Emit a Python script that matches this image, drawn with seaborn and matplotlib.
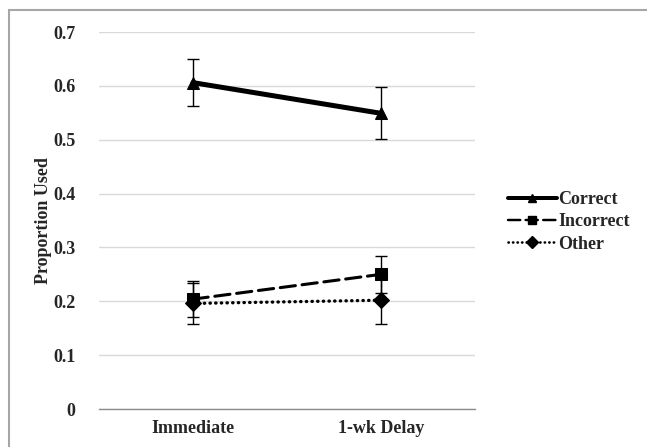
import pandas as pd
import seaborn as sns
import matplotlib.pyplot as plt
from matplotlib.patches import Rectangle
from matplotlib.lines import Line2D

# data
conditions = ["Immediate", "1-wk Delay"]
correct = [0.606, 0.549]
correct_err = [0.044, 0.048]
incorrect = [0.204, 0.250]
incorrect_err = [0.033, 0.035]
other = [0.196, 0.202]
other_err = [0.038, 0.045]

series_names = ["Correct", "Incorrect", "Other"]
df = pd.DataFrame({
    "condition": conditions * 3,
    "series": [s for s in series_names for _ in conditions],
    "value": correct + incorrect + other,
    "err": correct_err + incorrect_err + other_err,
})

sns.set_style("white")
plt.rcParams["font.family"] = ["Liberation Serif", "DejaVu Serif"]
plt.rcParams["font.weight"] = "bold"

fig = plt.figure(figsize=(6.47, 4.47), dpi=100)
ax = fig.add_axes([99 / 647, 1 - 409 / 447, (475 - 99) / 647, (409 - 32) / 447])

# outer chart border (right and bottom edges fall outside the image)
fig.patches.append(Rectangle((9 / 647, -0.05), 1.05, 1 - 10 / 447 + 0.05,
                             transform=fig.transFigure, fill=False,
                             edgecolor="#a6a6a6", linewidth=1.5, zorder=0))

styles = {"Correct": ("^", "", 3.6), "Incorrect": ("s", (5, 2.2), 2.2),
          "Other": ("D", (0.1, 1.6), 2.4)}

sns.lineplot(data=df, x="condition", y="value", hue="series", style="series",
             size="series", palette={s: "black" for s in series_names},
             sizes={s: styles[s][2] for s in series_names},
             markers={s: styles[s][0] for s in series_names},
             dashes={s: styles[s][1] for s in series_names},
             markersize=8, dash_capstyle="round", markeredgecolor="black",
             legend=False, ax=ax, zorder=3)

for s in series_names:
    sub = df[df["series"] == s]
    ax.errorbar([conditions.index(c) for c in sub["condition"]], sub["value"],
                yerr=sub["err"], fmt="none", ecolor="black", elinewidth=1.0,
                capsize=4, capthick=1.0, zorder=2)

ax.set_xlim(-0.5, 1.5)
ax.set_ylim(0, 0.7)
ax.set_yticks([0, 0.1, 0.2, 0.3, 0.4, 0.5, 0.6, 0.7])
ax.set_yticklabels(["0", "0.1", "0.2", "0.3", "0.4", "0.5", "0.6", "0.7"])
ax.set_xticks([0, 1])
ax.set_xticklabels(conditions)
ax.set_xticks([-0.5, 0.5, 1.5], minor=True)
ax.tick_params(axis="x", which="major", length=0, pad=8, labelsize=13)
ax.tick_params(axis="x", which="minor", length=4, color="#8c8c8c", width=1)
ax.tick_params(axis="y", length=0, pad=17, labelsize=13)
ax.yaxis.grid(True, color="#d9d9d9", linewidth=1)
ax.set_axisbelow(True)
for side in ["top", "right", "left"]:
    ax.spines[side].set_visible(False)
ax.spines["bottom"].set_color("#8c8c8c")
ax.spines["bottom"].set_linewidth(1)
ax.set_xlabel("")
ax.set_ylabel("Proportion Used", fontsize=13, fontweight="bold", labelpad=1)

# legend with smaller markers than the plot
handles = [Line2D([], [], color="black", marker=styles[s][0], markersize=6,
                  linewidth=styles[s][2] * 0.8, dash_capstyle="round",
                  linestyle=(0, styles[s][1]) if styles[s][1] else "-")
           for s in series_names]
ax.legend(handles, series_names, loc="center left",
          frameon=False, handlelength=2.7, handletextpad=0.1, labelspacing=0.28,
          borderaxespad=0, borderpad=0,
          prop={"family": "Liberation Serif", "weight": "bold", "size": 13})
leg = ax.get_legend()
leg.set_bbox_to_anchor((508 / 647, 1 - 222 / 447), transform=fig.transFigure)

fig.savefig("out.png", dpi=100)
